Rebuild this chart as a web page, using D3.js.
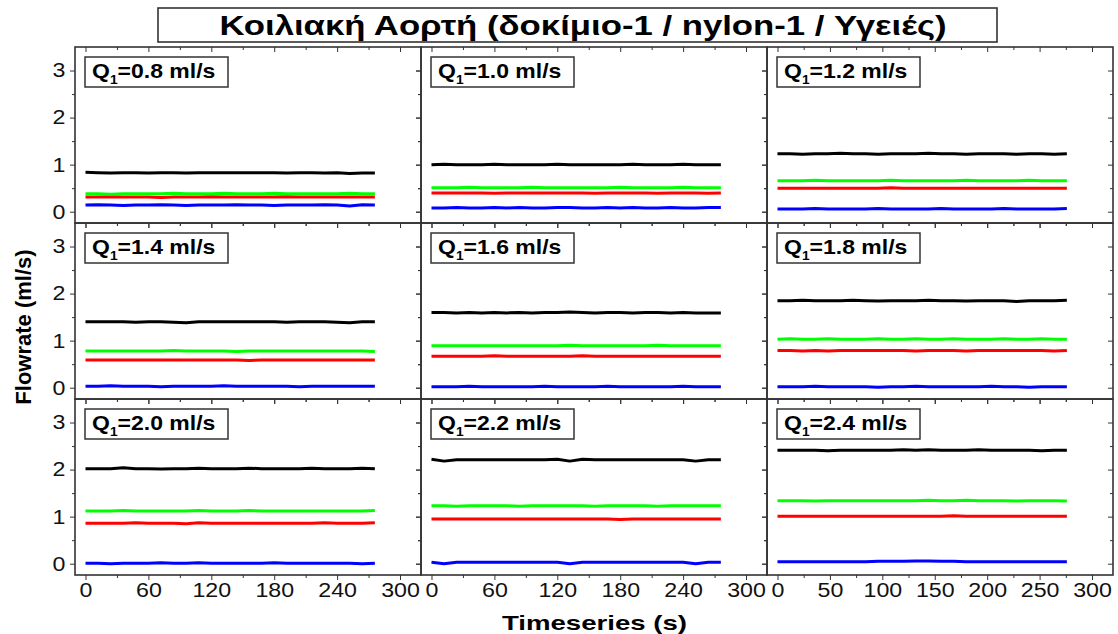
<!DOCTYPE html>
<html>
<head>
<meta charset="utf-8">
<script src="https://cdn.jsdelivr.net/npm/d3@7"></script>
<style>
  body { margin: 0; background: #fff; }
  svg { display: block; font-family: "Liberation Sans", Arial, sans-serif; }
</style>
</head>
<body>
<div id="chart"></div>
<script>
// Q1 for each panel, row by row
const flowLabels = ["0.8", "1.0", "1.2", "1.4", "1.6", "1.8", "2.0", "2.2", "2.4"];

// sample times (s)
const times = [0, 12, 24, 36, 48, 60, 72, 84, 96, 108, 120, 132, 144, 156, 168, 180, 192, 204, 216, 228, 240, 252, 264, 276];

// black series, one row per panel
const blackSeries = [
  [0.84,0.83,0.82,0.83,0.83,0.82,0.83,0.83,0.82,0.83,0.83,0.83,0.83,0.83,0.83,0.83,0.82,0.83,0.83,0.82,0.83,0.81,0.82,0.82],
  [1.00,1.01,1.00,1.00,1.00,1.01,1.00,1.00,1.00,1.00,1.01,1.00,1.00,1.00,1.00,1.00,1.01,1.00,1.00,1.00,1.01,1.00,1.00,1.00],
  [1.23,1.23,1.22,1.23,1.23,1.24,1.23,1.23,1.22,1.23,1.23,1.23,1.24,1.23,1.23,1.22,1.23,1.23,1.23,1.22,1.23,1.23,1.22,1.23],
  [1.40,1.40,1.40,1.40,1.39,1.40,1.40,1.39,1.38,1.40,1.40,1.40,1.40,1.40,1.40,1.40,1.39,1.40,1.40,1.40,1.39,1.38,1.40,1.40],
  [1.60,1.60,1.59,1.60,1.59,1.60,1.59,1.60,1.59,1.60,1.60,1.61,1.60,1.59,1.60,1.60,1.59,1.60,1.60,1.59,1.60,1.59,1.59,1.59],
  [1.85,1.85,1.86,1.85,1.85,1.85,1.86,1.85,1.84,1.85,1.85,1.85,1.86,1.85,1.85,1.84,1.85,1.85,1.85,1.83,1.85,1.85,1.85,1.86],
  [2.02,2.02,2.02,2.04,2.02,2.02,2.01,2.02,2.02,2.03,2.02,2.02,2.02,2.03,2.02,2.02,2.02,2.02,2.03,2.02,2.02,2.02,2.03,2.02],
  [2.22,2.18,2.21,2.21,2.21,2.21,2.21,2.21,2.21,2.21,2.22,2.18,2.22,2.21,2.21,2.21,2.21,2.21,2.21,2.21,2.21,2.18,2.21,2.21],
  [2.41,2.41,2.41,2.41,2.40,2.41,2.41,2.41,2.41,2.41,2.42,2.41,2.42,2.41,2.41,2.41,2.42,2.41,2.41,2.41,2.41,2.40,2.41,2.41]
];

const greenSeries = [
  [0.38,0.38,0.37,0.38,0.38,0.38,0.38,0.39,0.38,0.38,0.38,0.39,0.38,0.38,0.38,0.39,0.38,0.38,0.38,0.38,0.38,0.39,0.38,0.38],
  [0.51,0.51,0.51,0.52,0.51,0.51,0.51,0.51,0.52,0.51,0.51,0.51,0.51,0.51,0.51,0.52,0.51,0.51,0.51,0.51,0.52,0.51,0.51,0.51],
  [0.66,0.66,0.66,0.67,0.66,0.66,0.66,0.66,0.66,0.67,0.66,0.66,0.66,0.66,0.66,0.67,0.66,0.66,0.66,0.66,0.67,0.66,0.66,0.66],
  [0.78,0.78,0.78,0.78,0.78,0.78,0.78,0.79,0.78,0.78,0.78,0.78,0.77,0.78,0.78,0.78,0.78,0.78,0.78,0.78,0.78,0.78,0.78,0.77],
  [0.89,0.89,0.89,0.89,0.89,0.89,0.89,0.89,0.89,0.89,0.89,0.90,0.89,0.89,0.89,0.89,0.89,0.89,0.90,0.89,0.89,0.89,0.89,0.89],
  [1.03,1.04,1.03,1.03,1.04,1.03,1.03,1.03,1.04,1.03,1.03,1.04,1.03,1.03,1.04,1.03,1.03,1.03,1.04,1.03,1.03,1.04,1.03,1.03],
  [1.12,1.12,1.12,1.13,1.12,1.12,1.12,1.12,1.12,1.13,1.12,1.12,1.12,1.13,1.12,1.12,1.12,1.12,1.12,1.12,1.12,1.12,1.12,1.13],
  [1.23,1.23,1.22,1.23,1.23,1.23,1.23,1.22,1.23,1.23,1.23,1.23,1.23,1.22,1.23,1.23,1.23,1.23,1.22,1.23,1.23,1.23,1.23,1.23],
  [1.34,1.34,1.34,1.33,1.34,1.34,1.34,1.34,1.34,1.34,1.34,1.34,1.35,1.34,1.34,1.35,1.34,1.34,1.34,1.33,1.34,1.34,1.34,1.33]
];

const redSeries = [
  [0.31,0.31,0.32,0.31,0.31,0.31,0.30,0.31,0.31,0.31,0.32,0.31,0.31,0.31,0.31,0.31,0.32,0.31,0.31,0.31,0.31,0.31,0.31,0.31],
  [0.40,0.40,0.40,0.40,0.40,0.39,0.40,0.40,0.40,0.40,0.40,0.40,0.40,0.39,0.40,0.40,0.40,0.40,0.39,0.40,0.40,0.40,0.39,0.40],
  [0.50,0.50,0.50,0.50,0.50,0.50,0.50,0.50,0.50,0.51,0.50,0.50,0.50,0.50,0.50,0.50,0.50,0.50,0.50,0.50,0.50,0.50,0.50,0.50],
  [0.59,0.59,0.59,0.59,0.59,0.59,0.59,0.59,0.59,0.59,0.59,0.59,0.59,0.58,0.59,0.59,0.59,0.59,0.59,0.59,0.59,0.59,0.59,0.59],
  [0.67,0.67,0.67,0.67,0.67,0.68,0.67,0.67,0.67,0.67,0.67,0.67,0.68,0.67,0.67,0.67,0.67,0.67,0.67,0.67,0.67,0.67,0.67,0.67],
  [0.79,0.79,0.78,0.79,0.78,0.79,0.79,0.79,0.79,0.79,0.79,0.78,0.79,0.79,0.79,0.78,0.79,0.79,0.79,0.79,0.79,0.79,0.78,0.79],
  [0.86,0.86,0.86,0.86,0.87,0.86,0.86,0.86,0.85,0.87,0.86,0.86,0.86,0.86,0.86,0.86,0.86,0.86,0.86,0.87,0.86,0.86,0.86,0.87],
  [0.95,0.95,0.95,0.95,0.95,0.95,0.95,0.95,0.95,0.95,0.95,0.95,0.95,0.95,0.95,0.94,0.95,0.95,0.95,0.95,0.95,0.95,0.95,0.95],
  [1.01,1.01,1.01,1.01,1.01,1.01,1.01,1.01,1.01,1.01,1.01,1.01,1.01,1.01,1.02,1.01,1.01,1.01,1.01,1.01,1.01,1.01,1.01,1.01]
];

const blueSeries = [
  [0.14,0.15,0.14,0.13,0.14,0.14,0.15,0.14,0.13,0.14,0.14,0.14,0.15,0.14,0.14,0.13,0.14,0.14,0.14,0.15,0.14,0.12,0.15,0.14],
  [0.08,0.08,0.09,0.08,0.08,0.09,0.08,0.09,0.08,0.08,0.09,0.09,0.08,0.08,0.09,0.08,0.09,0.08,0.08,0.09,0.08,0.08,0.09,0.09],
  [0.06,0.06,0.06,0.07,0.06,0.06,0.06,0.06,0.07,0.06,0.06,0.06,0.06,0.07,0.06,0.06,0.06,0.06,0.07,0.06,0.06,0.06,0.06,0.07],
  [0.03,0.03,0.04,0.03,0.03,0.03,0.02,0.03,0.03,0.03,0.03,0.04,0.03,0.03,0.03,0.03,0.03,0.02,0.03,0.03,0.03,0.03,0.03,0.03],
  [0.02,0.02,0.02,0.03,0.02,0.02,0.02,0.02,0.02,0.03,0.02,0.02,0.02,0.02,0.03,0.02,0.02,0.02,0.02,0.02,0.03,0.02,0.02,0.02],
  [0.02,0.02,0.02,0.03,0.02,0.02,0.02,0.02,0.01,0.02,0.02,0.03,0.02,0.02,0.02,0.02,0.02,0.03,0.02,0.02,0.01,0.02,0.02,0.02],
  [0.01,0.01,0.00,0.01,0.01,0.01,0.02,0.01,0.01,0.02,0.01,0.01,0.01,0.01,0.01,0.02,0.01,0.01,0.01,0.01,0.01,0.01,0.00,0.01],
  [0.03,0.00,0.03,0.03,0.03,0.03,0.03,0.03,0.03,0.03,0.03,0.00,0.03,0.03,0.03,0.03,0.03,0.03,0.03,0.03,0.03,0.00,0.03,0.03],
  [0.04,0.04,0.04,0.04,0.04,0.04,0.04,0.04,0.05,0.05,0.05,0.06,0.06,0.05,0.05,0.04,0.04,0.04,0.04,0.04,0.04,0.04,0.04,0.04]
];

const seriesColors = ["#000000", "#ff0000", "#00ff00", "#0000ff"];

// tick values
const yMajor = [0, 1, 2, 3];
const yMinor = [0.5, 1.5, 2.5];
const xMajor60 = [0, 60, 120, 180, 240, 300];
const xMinor60 = [30, 90, 150, 210, 270];
const xMajor50 = [0, 50, 100, 150, 200, 250, 300];
const xMinor50 = [25, 75, 125, 175, 225, 275];

const W = 1118, H = 634;
const gridLeft = 75, gridTop = 47, pw = 346, ph = 176;
const axisColor = "#333";
const sx = 1.16; // horizontal stretch of the lettering

const svg = d3.select('#chart').append('svg')
  .attr('width', W).attr('height', H);

const x = d3.scaleLinear().domain([-10, 320]).range([0, pw]);
const y = d3.scaleLinear().domain([-0.24, 3.5]).range([ph, 0]);

const line = d3.line()
  .x((d, i) => x(times[i]))
  .y(d => y(d));

function styleAxis(g) {
  g.select('.domain').remove();
  g.selectAll('line').attr('stroke', axisColor).attr('stroke-width', 1);
}

flowLabels.forEach((q, p) => {
  const col = p % 3, row = Math.floor(p / 3);
  const g = svg.append('g')
    .attr('transform', `translate(${gridLeft + col * pw},${gridTop + row * ph})`);

  const xMajor = col === 2 ? xMajor50 : xMajor60;
  const xMinor = col === 2 ? xMinor50 : xMinor60;

  // left (outward, labelled in first column)
  const la = g.append('g')
    .call(d3.axisLeft(y).tickValues(yMajor).tickSize(5).tickSizeOuter(0)
      .tickFormat(col === 0 ? d3.format('d') : ''));
  la.selectAll('text')
    .attr('x', -9.5 / sx)
    .attr('transform', `scale(${sx},1)`)
    .attr('font-size', 20).attr('fill', '#111')
    .attr('font-family', '"Liberation Sans", Arial, sans-serif');
  styleAxis(la);
  styleAxis(g.append('g').call(d3.axisLeft(y).tickValues(yMinor).tickSize(3).tickSizeOuter(0).tickFormat('')));

  // right (inward)
  styleAxis(g.append('g').attr('transform', `translate(${pw},0)`)
    .call(d3.axisLeft(y).tickValues(yMajor).tickSize(5).tickSizeOuter(0).tickFormat('')));
  styleAxis(g.append('g').attr('transform', `translate(${pw},0)`)
    .call(d3.axisLeft(y).tickValues(yMinor).tickSize(3).tickSizeOuter(0).tickFormat('')));

  // top (inward)
  styleAxis(g.append('g')
    .call(d3.axisBottom(x).tickValues(xMajor).tickSize(5).tickSizeOuter(0).tickFormat('')));
  styleAxis(g.append('g')
    .call(d3.axisBottom(x).tickValues(xMinor).tickSize(3).tickSizeOuter(0).tickFormat('')));

  // bottom (outward, labelled in last row)
  const ba = g.append('g').attr('transform', `translate(0,${ph})`)
    .call(d3.axisBottom(x).tickValues(xMajor).tickSize(5).tickSizeOuter(0)
      .tickFormat(row === 2 ? d3.format('d') : ''));
  ba.selectAll('text')
    .attr('transform', `scale(${sx},1)`)
    .attr('font-size', 20).attr('fill', '#111')
    .attr('font-family', '"Liberation Sans", Arial, sans-serif');
  styleAxis(ba);
  styleAxis(g.append('g').attr('transform', `translate(0,${ph})`)
    .call(d3.axisBottom(x).tickValues(xMinor).tickSize(3).tickSizeOuter(0).tickFormat('')));

  // data lines
  [blackSeries[p], redSeries[p], greenSeries[p], blueSeries[p]].forEach((s, k) => {
    g.append('path')
      .datum(s)
      .attr('d', line)
      .attr('fill', 'none')
      .attr('stroke', seriesColors[k])
      .attr('stroke-width', 3)
      .attr('stroke-linejoin', 'round');
  });

  // panel frame
  g.append('rect')
    .attr('width', pw).attr('height', ph)
    .attr('fill', 'none')
    .attr('stroke', axisColor).attr('stroke-width', 1.6);

  // Q1 label box
  const lb = g.append('g').attr('transform', 'translate(10,10)');
  lb.append('rect')
    .attr('width', 143).attr('height', 30)
    .attr('fill', '#fff')
    .attr('stroke', axisColor).attr('stroke-width', 1.5);
  const t = lb.append('g').attr('transform', `translate(7,21) scale(1.15,1)`)
    .append('text')
    .attr('font-size', 20).attr('font-weight', 'bold').attr('fill', '#000');
  t.append('tspan').text('Q');
  t.append('tspan').attr('font-size', 12).attr('dy', 6).text('1');
  t.append('tspan').attr('dy', -6).text(`=${q} ml/s`);
});

// title
svg.append('rect')
  .attr('x', 158).attr('y', 8).attr('width', 839).attr('height', 34)
  .attr('fill', '#fff')
  .attr('stroke', axisColor).attr('stroke-width', 1.6);
svg.append('text')
  .attr('x', 583).attr('y', 35)
  .attr('text-anchor', 'middle')
  .attr('font-size', 28).attr('font-weight', 'bold')
  .attr('textLength', 727).attr('lengthAdjust', 'spacingAndGlyphs')
  .text('Κοιλιακή Αορτή (δοκίμιο-1 / nylon-1 / Υγειές)');

// axis titles
svg.append('text')
  .attr('transform', 'translate(31,327) rotate(-90)')
  .attr('text-anchor', 'middle')
  .attr('font-size', 22).attr('font-weight', 'bold')
  .text('Flowrate (ml/s)');

svg.append('text')
  .attr('x', 594.5).attr('y', 630)
  .attr('text-anchor', 'middle')
  .attr('font-size', 21).attr('font-weight', 'bold')
  .attr('textLength', 185).attr('lengthAdjust', 'spacingAndGlyphs')
  .text('Timeseries (s)');
</script>
</body>
</html>
